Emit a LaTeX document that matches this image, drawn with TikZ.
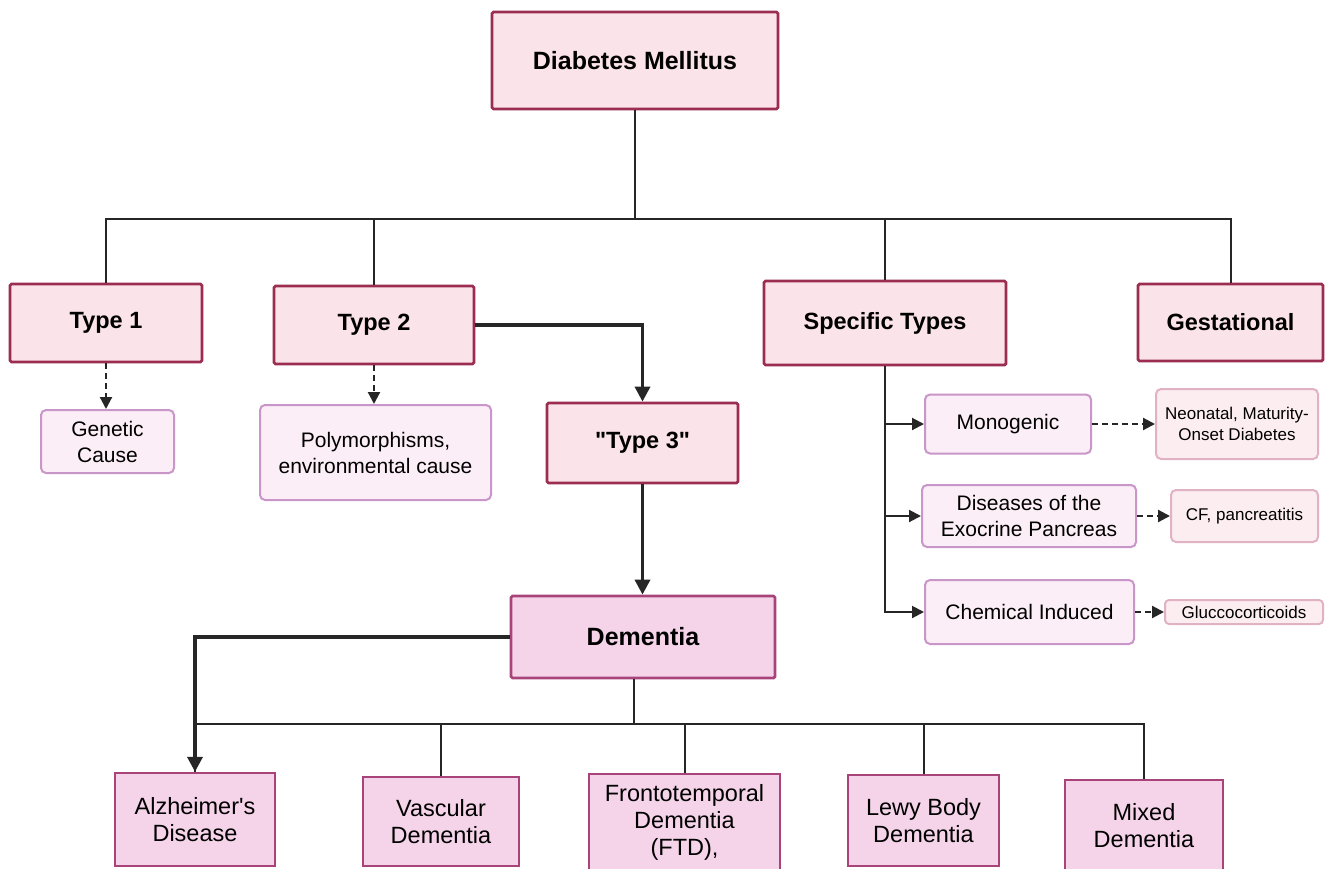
\documentclass[tikz,border=0pt]{standalone}
\usepackage{fontspec}
\setmainfont{Liberation Sans}[Ligatures=TeXOff]
\usetikzlibrary{arrows.meta}
\definecolor{hdrfill}{HTML}{FAE3E9}
\definecolor{hdrdraw}{HTML}{9B2D50}
\definecolor{demfill}{HTML}{F5D4EA}
\definecolor{demdraw}{HTML}{A8447A}
\definecolor{subfill}{HTML}{FCEEF6}
\definecolor{subdraw}{HTML}{C896C8}
\definecolor{leaffill}{HTML}{FCEDF0}
\definecolor{leafdraw}{HTML}{E0B2C4}
\definecolor{linec}{HTML}{262626}
\tikzset{
  hdr/.style={draw=hdrdraw, fill=hdrfill, line width=2.8pt, rounded corners=1.5pt, inner sep=0pt, align=center, font=\bfseries\fontsize{23.5}{28}\selectfont},
  bighdr/.style={hdr, font=\bfseries\fontsize{25}{30}\selectfont},
  dembox/.style={draw=demdraw, fill=demfill, line width=2.4pt, inner sep=0pt, align=center, font=\fontsize{23.5}{27}\selectfont},
  subbox/.style={draw=subdraw, fill=subfill, line width=2pt, rounded corners=5pt, inner sep=0pt, align=center, font=\fontsize{21}{26}\selectfont},
  leafbox/.style={draw=leafdraw, fill=leaffill, line width=2pt, rounded corners=5pt, inner sep=0pt, align=center, font=\fontsize{17}{21}\selectfont},
  thin/.style={draw=linec, line width=2pt},
  thickarr/.style={draw=linec, line width=3.5pt, -{Triangle[length=15pt,width=15pt]}},
  solidarr/.style={draw=linec, line width=2pt, -{Triangle[length=12pt,width=12pt]}},
  dasharr/.style={draw=linec, line width=2.2pt, dash pattern=on 6pt off 4pt, -{Triangle[length=12pt,width=12pt]}},
}
\begin{document}
\begin{tikzpicture}[x=1pt,y=-1pt]
\useasboundingbox[fill=white] (0,0) rectangle (1325,868);
% top level
\node[bighdr, minimum width=286, minimum height=97] (dm) at (635,60.5) {Diabetes Mellitus};
\node[hdr, minimum width=192, minimum height=78] (t1) at (106,323) {Type 1};
\node[hdr, minimum width=200, minimum height=78] (t2) at (374,325) {Type 2};
\node[hdr, minimum width=242, minimum height=84] (st) at (885,323) {Specific Types};
\node[hdr, minimum width=185, minimum height=77] (gest) at (1230.5,322.5) {Gestational};
\node[hdr, minimum width=191, minimum height=80] (t3) at (642.5,443) {"Type 3"};
\node[bighdr, draw=demdraw, fill=demfill, minimum width=264, minimum height=82] (dem) at (643,637) {Dementia};
% causes
\node[subbox, minimum width=133, minimum height=63] (gen) at (107.5,441.5) {Genetic\\Cause};
\node[subbox, minimum width=231, minimum height=95] (poly) at (375.5,452.5) {Polymorphisms,\\environmental cause};
% specific types
\node[subbox, minimum width=166, minimum height=59] (mono) at (1008,424) {Monogenic};
\node[subbox, minimum width=214, minimum height=62] (exo) at (1029,516) {Diseases of the\\Exocrine Pancreas};
\node[subbox, minimum width=209, minimum height=64] (chem) at (1029.5,612) {Chemical Induced};
\node[leafbox, minimum width=162, minimum height=70] (neo) at (1237,424) {Neonatal, Maturity-\\Onset Diabetes};
\node[leafbox, minimum width=147, minimum height=52] (cf) at (1244.5,516) {CF, pancreatitis};
\node[leafbox, minimum width=158, minimum height=24, rounded corners=4pt] (glu) at (1244,612) {Gluccocorticoids};
% dementia types
\node[dembox, minimum width=160, minimum height=93] (alz) at (195,819.5) {Alzheimer's\\Disease};
\node[dembox, minimum width=156, minimum height=89] (vas) at (441,821.5) {Vascular\\Dementia};
\node[dembox, minimum width=191, minimum height=97, anchor=north] (ftd) at (684.5,773) {Frontotemporal\\Dementia\\(FTD),};
\node[dembox, minimum width=151, minimum height=91] (lewy) at (923.5,820.5) {Lewy Body\\Dementia};
\node[dembox, minimum width=158, minimum height=90, anchor=north] (mixed) at (1144,779) {Mixed\\Dementia};
% tree from DM
\coordinate (bus) at (635,219);
\draw[thin] (dm.south) -- (bus);
\draw[thin] (t1.north) |- (bus) -| (gest.north);
\draw[thin] (t2.north) -- (t2.north |- bus);
\draw[thin] (st.north) -- (st.north |- bus);
% dashed cause arrows
\draw[dasharr] (t1.south) -- (gen.north -| t1.south);
\draw[dasharr] (t2.south) -- (poly.north -| t2.south);
% type 2 -> type 3 -> dementia
\draw[thickarr, line join=miter] (t2.east) -| (t3.north);
\draw[thickarr] (t3.south) -- (dem.north -| t3.south);
% dementia tree
\coordinate (dbus) at (634,724);
\draw[thin] (dem.south -| dbus) -- (dbus);
\draw[thin] (alz.north) |- (dbus) -| (mixed.north);
\draw[thin] (vas.north) -- (vas.north |- dbus);
\draw[thin] (ftd.north) -- (ftd.north |- dbus);
\draw[thin] (lewy.north) -- (lewy.north |- dbus);
\draw[thickarr, line join=miter] (dem.west) -| (alz.north);
% specific types branches
\draw[solidarr] (st.south) |- (chem.west);
\draw[solidarr] (st.south |- mono.west) -- (mono.west);
\draw[solidarr] (st.south |- exo.west) -- (exo.west);
\draw[dasharr] (mono.east) -- (neo.west);
\draw[dasharr] (exo.east) -- (cf.west);
\draw[dasharr] (chem.east) -- (glu.west);
\end{tikzpicture}
\end{document}
